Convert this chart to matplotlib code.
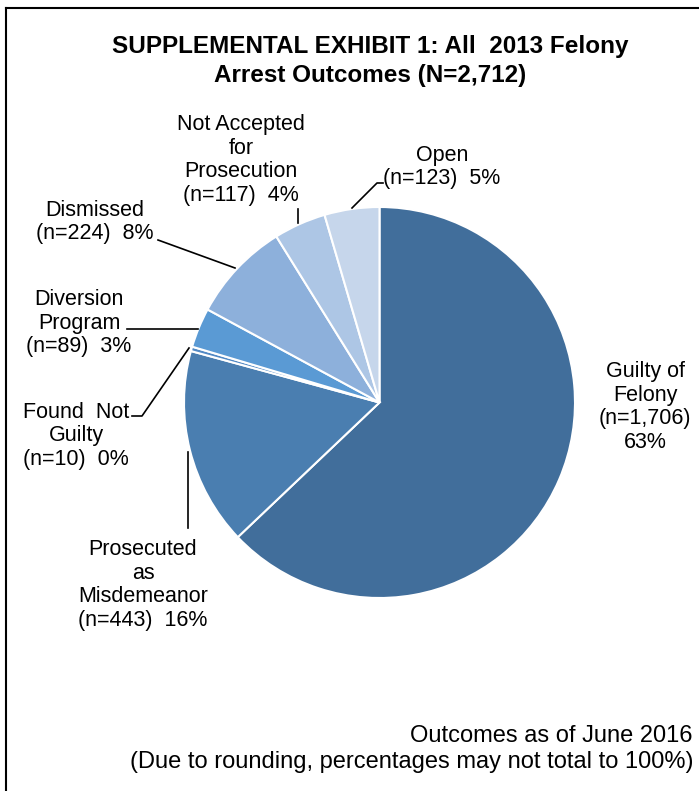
import matplotlib
matplotlib.use('Agg')
import matplotlib.pyplot as plt
from matplotlib.lines import Line2D

plt.rcParams['font.family'] = ['Liberation Sans', 'DejaVu Sans']

outcomes = ['Guilty of\nFelony', 'Prosecuted\nas\nMisdemeanor', 'Found  Not\nGuilty',
            'Diversion\nProgram', 'Dismissed', 'Not Accepted\nfor\nProsecution', 'Open']
counts = [1706, 443, 10, 89, 224, 117, 123]
percents = [63, 16, 0, 3, 8, 4, 5]
colors = ['#416E9B', '#4A7EB0', '#5289C4', '#5A9AD4', '#8DB0DB', '#ADC6E5', '#C6D6EB']

W, H = 699, 791
fig = plt.figure(figsize=(W / 100, H / 100), dpi=100)

def fx(x):
    return x / W

def fy(y):
    return 1 - y / H

# pie placement (pixels): center (379.5, 402.5), radius 195.5
cx, cy, r = 379.5, 402.5, 195.5
ax = fig.add_axes([fx(cx - r), fy(cy + r), 2 * r / W, 2 * r / H])
ax.pie(counts, colors=colors, startangle=90, counterclock=False,
       wedgeprops=dict(edgecolor='white', linewidth=1.5))
ax.set_xlim(-1, 1)
ax.set_ylim(-1, 1)
ax.set_aspect('equal')
ax.axis('off')

# border
fig.add_artist(Line2D([fx(6), fx(6)], [fy(8), fy(H + 5)], color='black', lw=1.5))
fig.add_artist(Line2D([fx(6), fx(W + 5)], [fy(8), fy(8)], color='black', lw=1.5))

fig.text(fx(370), fy(61), 'SUPPLEMENTAL EXHIBIT 1: All  2013 Felony\nArrest Outcomes (N=2,712)',
         ha='center', va='center', fontsize=17.5, fontweight='bold', linespacing=1.32)

def label(i):
    return '%s\n(n=%s)  %d%%' % (outcomes[i], format(counts[i], ','), percents[i])

lab_pos = {
    0: (645, 407),
    1: (143, 585),
    2: (76, 436),
    3: (79, 323),
    4: (95, 222),
    5: (241, 160),
    6: (442, 167),
}
for i, (x, y) in lab_pos.items():
    txt = label(i)
    if i == 0:
        txt = '%s\n(n=%s)\n%d%%' % (outcomes[i], format(counts[i], ','), percents[i])
    fig.text(fx(x), fy(y), txt, ha='center', va='center', fontsize=15.5, linespacing=1.17)

leaders = [
    [(188, 452), (188, 528)],
    [(132, 416), (142, 416), (189, 348)],
    [(127, 329), (198, 329)],
    [(158, 240), (235, 268)],
    [(298, 209), (298, 223)],
    [(383, 183), (377, 183), (352, 208)],
]
for pts in leaders:
    xs = [fx(p[0]) for p in pts]
    ys = [fy(p[1]) for p in pts]
    fig.add_artist(Line2D(xs, ys, color='black', lw=1.2))

fig.text(fx(693), fy(749), 'Outcomes as of June 2016\n(Due to rounding, percentages may not total to 100%)',
         ha='right', va='center', fontsize=17, linespacing=1.25, multialignment='right')

fig.savefig('out.png', dpi=100)
